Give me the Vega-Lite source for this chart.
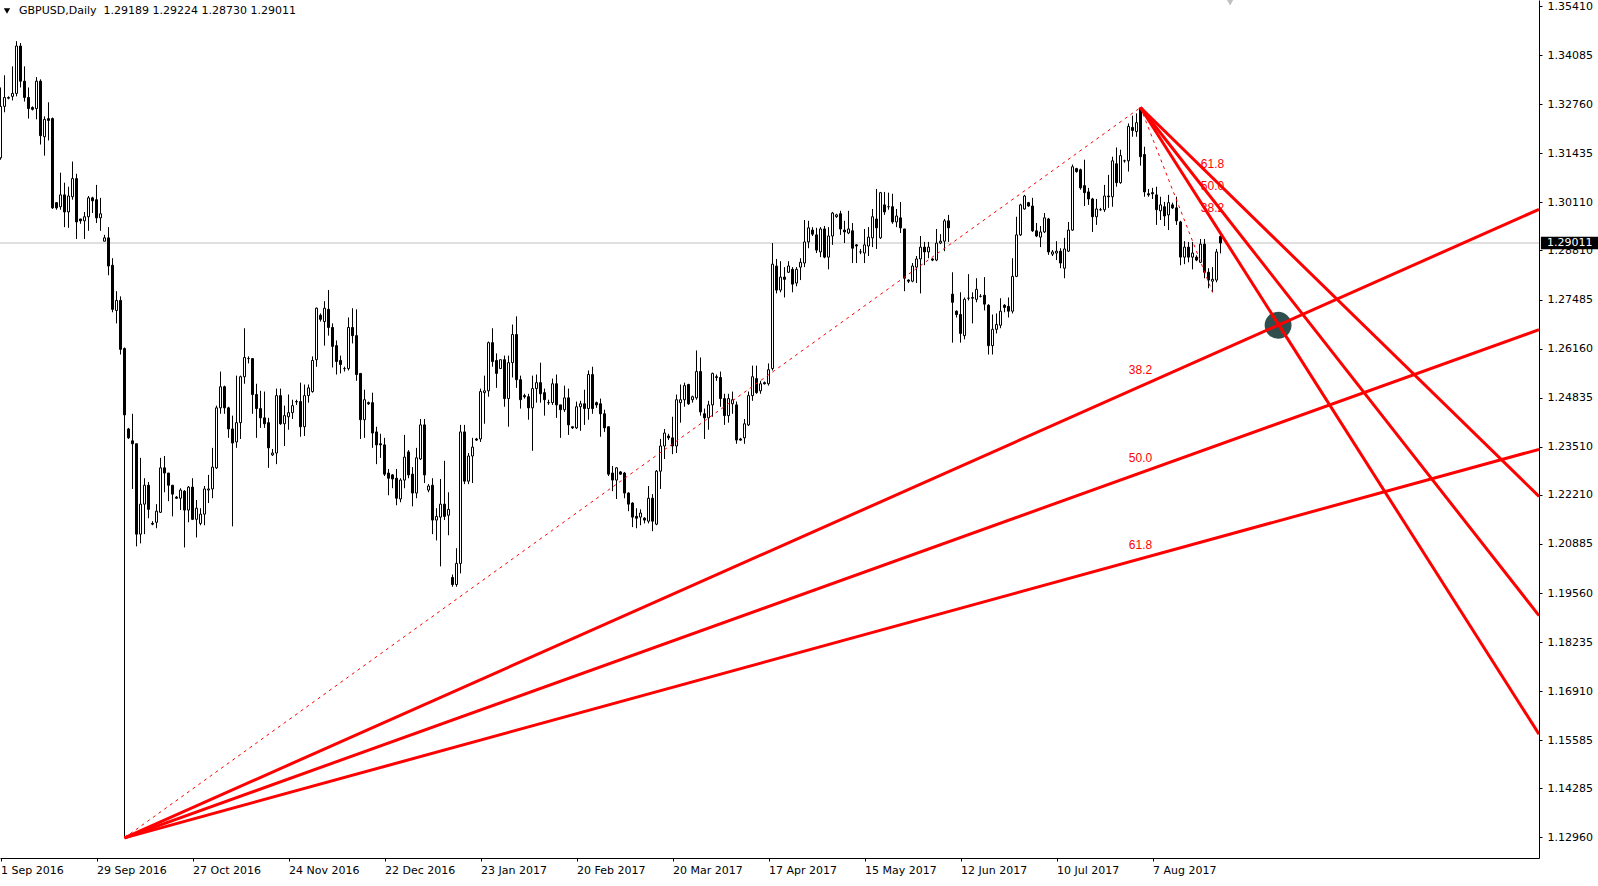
{
"$schema": "https://vega.github.io/schema/vega-lite/v6.json",
"width": 1539, "height": 858,
"autosize": {"type": "none"},
"padding": {"left": 0, "top": 0, "right": 59, "bottom": 28},
"background": "#ffffff",
"config": {"view": {"stroke": null}, "scale": {"continuousPadding": 0}, "axis": {"grid": false, "labelFont": "DejaVu Sans", "labelFontSize": 11, "labelColor": "#000000", "tickColor": "#000000", "domainColor": "#000000", "tickSize": 3}},
"datasets": {
"candles": [
{"i":0,"o":1.3131,"h":1.3321,"l":1.3126,"c":1.327},
{"i":1,"o":1.327,"h":1.3354,"l":1.3254,"c":1.3294},
{"i":2,"o":1.3292,"h":1.3297,"l":1.3289,"c":1.3294},
{"i":3,"o":1.3297,"h":1.3378,"l":1.3286,"c":1.3305},
{"i":4,"o":1.3305,"h":1.3446,"l":1.3297,"c":1.3433},
{"i":5,"o":1.3433,"h":1.3441,"l":1.3321,"c":1.3338},
{"i":6,"o":1.3338,"h":1.3378,"l":1.3283,"c":1.3294},
{"i":7,"o":1.3294,"h":1.3321,"l":1.3237,"c":1.3264},
{"i":8,"o":1.3267,"h":1.327,"l":1.3259,"c":1.3262},
{"i":9,"o":1.3264,"h":1.3349,"l":1.3235,"c":1.3338},
{"i":10,"o":1.3338,"h":1.3343,"l":1.3167,"c":1.3191},
{"i":11,"o":1.3188,"h":1.3243,"l":1.3137,"c":1.3235},
{"i":12,"o":1.3237,"h":1.3281,"l":1.3178,"c":1.3232},
{"i":13,"o":1.3237,"h":1.324,"l":1.2993,"c":1.2996},
{"i":14,"o":1.301,"h":1.301,"l":1.2991,"c":1.2996},
{"i":15,"o":1.2999,"h":1.3091,"l":1.2991,"c":1.3031},
{"i":16,"o":1.3031,"h":1.3064,"l":1.2944,"c":1.2985},
{"i":17,"o":1.2985,"h":1.3053,"l":1.2942,"c":1.3028},
{"i":18,"o":1.3026,"h":1.3121,"l":1.3018,"c":1.3075},
{"i":19,"o":1.3075,"h":1.3088,"l":1.2912,"c":1.2958},
{"i":20,"o":1.2966,"h":1.2966,"l":1.2953,"c":1.2961},
{"i":21,"o":1.2961,"h":1.2985,"l":1.2912,"c":1.2972},
{"i":22,"o":1.2972,"h":1.3028,"l":1.2934,"c":1.3023},
{"i":23,"o":1.3023,"h":1.3026,"l":1.2982,"c":1.3015},
{"i":24,"o":1.3018,"h":1.3058,"l":1.2955,"c":1.2969},
{"i":25,"o":1.2969,"h":1.3023,"l":1.2934,"c":1.298},
{"i":26,"o":1.2906,"h":1.2923,"l":1.2906,"c":1.2915},
{"i":27,"o":1.2915,"h":1.2944,"l":1.2814,"c":1.2839},
{"i":28,"o":1.2841,"h":1.286,"l":1.2714,"c":1.2722},
{"i":29,"o":1.2719,"h":1.2771,"l":1.2684,"c":1.2746},
{"i":30,"o":1.2746,"h":1.2757,"l":1.26,"c":1.2614},
{"i":31,"o":1.2616,"h":1.2619,"l":1.1295,"c":1.2437},
{"i":32,"o":1.2399,"h":1.2402,"l":1.2372,"c":1.2375},
{"i":33,"o":1.2367,"h":1.244,"l":1.2237,"c":1.2359},
{"i":34,"o":1.2359,"h":1.2359,"l":1.2082,"c":1.2115},
{"i":35,"o":1.2115,"h":1.2321,"l":1.209,"c":1.2196},
{"i":36,"o":1.2196,"h":1.2266,"l":1.2115,"c":1.2247},
{"i":37,"o":1.2247,"h":1.2256,"l":1.2158,"c":1.2182},
{"i":38,"o":1.2144,"h":1.215,"l":1.2139,"c":1.2142},
{"i":39,"o":1.2147,"h":1.2196,"l":1.2131,"c":1.2177},
{"i":40,"o":1.2174,"h":1.2321,"l":1.2172,"c":1.2294},
{"i":41,"o":1.2294,"h":1.2326,"l":1.2228,"c":1.228},
{"i":42,"o":1.228,"h":1.228,"l":1.2204,"c":1.2247},
{"i":43,"o":1.2247,"h":1.2247,"l":1.2163,"c":1.2223},
{"i":44,"o":1.2215,"h":1.2218,"l":1.221,"c":1.2212},
{"i":45,"o":1.2212,"h":1.2239,"l":1.218,"c":1.2234},
{"i":46,"o":1.2231,"h":1.2234,"l":1.2079,"c":1.218},
{"i":47,"o":1.218,"h":1.2245,"l":1.2147,"c":1.2242},
{"i":48,"o":1.2242,"h":1.2266,"l":1.2153,"c":1.2155},
{"i":49,"o":1.2155,"h":1.2207,"l":1.2106,"c":1.2185},
{"i":50,"o":1.2144,"h":1.2185,"l":1.2139,"c":1.2169},
{"i":51,"o":1.2169,"h":1.2245,"l":1.2139,"c":1.2237},
{"i":52,"o":1.2234,"h":1.2275,"l":1.2199,"c":1.2237},
{"i":53,"o":1.2237,"h":1.2348,"l":1.2212,"c":1.2296},
{"i":54,"o":1.2294,"h":1.2462,"l":1.2291,"c":1.2456},
{"i":55,"o":1.2456,"h":1.2554,"l":1.244,"c":1.2513},
{"i":56,"o":1.2513,"h":1.2516,"l":1.244,"c":1.2456},
{"i":57,"o":1.2456,"h":1.2459,"l":1.2375,"c":1.2399},
{"i":58,"o":1.2399,"h":1.2435,"l":1.2136,"c":1.2361},
{"i":59,"o":1.2364,"h":1.2543,"l":1.2348,"c":1.2416},
{"i":60,"o":1.2416,"h":1.2543,"l":1.2372,"c":1.254},
{"i":61,"o":1.254,"h":1.2671,"l":1.2521,"c":1.2592},
{"i":62,"o":1.2589,"h":1.2595,"l":1.2576,"c":1.2589},
{"i":63,"o":1.2589,"h":1.259,"l":1.244,"c":1.2492},
{"i":64,"o":1.2492,"h":1.2521,"l":1.2375,"c":1.2454},
{"i":65,"o":1.2454,"h":1.2502,"l":1.2402,"c":1.2429},
{"i":66,"o":1.2429,"h":1.25,"l":1.2402,"c":1.2413},
{"i":67,"o":1.2416,"h":1.2429,"l":1.2294,"c":1.2348},
{"i":68,"o":1.2329,"h":1.2345,"l":1.2326,"c":1.2334},
{"i":69,"o":1.2334,"h":1.2508,"l":1.2304,"c":1.2489},
{"i":70,"o":1.2489,"h":1.2508,"l":1.241,"c":1.2413},
{"i":71,"o":1.2413,"h":1.2462,"l":1.2353,"c":1.2435},
{"i":72,"o":1.2432,"h":1.2492,"l":1.2397,"c":1.2443},
{"i":73,"o":1.2443,"h":1.2478,"l":1.2426,"c":1.2462},
{"i":74,"o":1.2473,"h":1.2478,"l":1.2464,"c":1.2472},
{"i":75,"o":1.2473,"h":1.2524,"l":1.2378,"c":1.2405},
{"i":76,"o":1.2405,"h":1.2519,"l":1.238,"c":1.2489},
{"i":77,"o":1.2489,"h":1.2519,"l":1.247,"c":1.251},
{"i":78,"o":1.25,"h":1.2595,"l":1.2497,"c":1.2584},
{"i":79,"o":1.2586,"h":1.2727,"l":1.2567,"c":1.2725},
{"i":80,"o":1.2706,"h":1.2711,"l":1.2689,"c":1.2695},
{"i":81,"o":1.2689,"h":1.2744,"l":1.2624,"c":1.2725},
{"i":82,"o":1.2722,"h":1.2774,"l":1.2651,"c":1.2673},
{"i":83,"o":1.2673,"h":1.2684,"l":1.2565,"c":1.2622},
{"i":84,"o":1.2624,"h":1.2638,"l":1.2546,"c":1.2581},
{"i":85,"o":1.2584,"h":1.2597,"l":1.2549,"c":1.2573},
{"i":86,"o":1.2562,"h":1.2567,"l":1.2554,"c":1.2562},
{"i":87,"o":1.2562,"h":1.27,"l":1.2557,"c":1.2673},
{"i":88,"o":1.2673,"h":1.2725,"l":1.263,"c":1.2651},
{"i":89,"o":1.2651,"h":1.2722,"l":1.2529,"c":1.2546},
{"i":90,"o":1.2549,"h":1.2549,"l":1.2372,"c":1.2424},
{"i":91,"o":1.2424,"h":1.2505,"l":1.2375,"c":1.2478},
{"i":92,"o":1.247,"h":1.2473,"l":1.2464,"c":1.2467},
{"i":93,"o":1.247,"h":1.2497,"l":1.2348,"c":1.2388},
{"i":94,"o":1.2391,"h":1.2405,"l":1.2304,"c":1.2356},
{"i":95,"o":1.2359,"h":1.2386,"l":1.2321,"c":1.2356},
{"i":96,"o":1.2356,"h":1.2375,"l":1.2272,"c":1.2277},
{"i":97,"o":1.228,"h":1.2291,"l":1.222,"c":1.2266},
{"i":98,"o":1.2275,"h":1.2277,"l":1.2239,"c":1.2264},
{"i":99,"o":1.2266,"h":1.2291,"l":1.2193,"c":1.2212},
{"i":100,"o":1.221,"h":1.2266,"l":1.2201,"c":1.2261},
{"i":101,"o":1.2261,"h":1.2383,"l":1.2239,"c":1.2323},
{"i":102,"o":1.2337,"h":1.2342,"l":1.2266,"c":1.2275},
{"i":103,"o":1.2277,"h":1.2296,"l":1.219,"c":1.2226},
{"i":104,"o":1.2226,"h":1.2348,"l":1.2212,"c":1.2321},
{"i":105,"o":1.2318,"h":1.2426,"l":1.2315,"c":1.241},
{"i":106,"o":1.241,"h":1.2426,"l":1.2253,"c":1.2275},
{"i":107,"o":1.2234,"h":1.225,"l":1.2228,"c":1.2245},
{"i":108,"o":1.2247,"h":1.2266,"l":1.2115,"c":1.2153},
{"i":109,"o":1.2153,"h":1.2185,"l":1.2098,"c":1.2163},
{"i":110,"o":1.2161,"h":1.2264,"l":1.2028,"c":1.2196},
{"i":111,"o":1.2196,"h":1.2313,"l":1.2153,"c":1.2163},
{"i":112,"o":1.2166,"h":1.2228,"l":1.2112,"c":1.2182},
{"i":113,"o":1.1998,"h":1.2006,"l":1.1973,"c":1.1979},
{"i":114,"o":1.1979,"h":1.2077,"l":1.1973,"c":1.2036},
{"i":115,"o":1.2036,"h":1.241,"l":1.2009,"c":1.2391},
{"i":116,"o":1.2391,"h":1.241,"l":1.225,"c":1.2258},
{"i":117,"o":1.2258,"h":1.2334,"l":1.225,"c":1.2326},
{"i":118,"o":1.2326,"h":1.2375,"l":1.2253,"c":1.235},
{"i":119,"o":1.2372,"h":1.2375,"l":1.2367,"c":1.2369},
{"i":120,"o":1.2372,"h":1.2508,"l":1.2364,"c":1.25},
{"i":121,"o":1.2497,"h":1.2543,"l":1.2413,"c":1.2502},
{"i":122,"o":1.2502,"h":1.2635,"l":1.2486,"c":1.2632},
{"i":123,"o":1.2632,"h":1.2671,"l":1.2567,"c":1.2581},
{"i":124,"o":1.2584,"h":1.2603,"l":1.251,"c":1.2549},
{"i":125,"o":1.2562,"h":1.2586,"l":1.2562,"c":1.2586},
{"i":126,"o":1.2586,"h":1.2597,"l":1.2459,"c":1.2481},
{"i":127,"o":1.2481,"h":1.2597,"l":1.2405,"c":1.2578},
{"i":128,"o":1.2578,"h":1.2681,"l":1.2538,"c":1.2654},
{"i":129,"o":1.2654,"h":1.2703,"l":1.251,"c":1.2532},
{"i":130,"o":1.2532,"h":1.2543,"l":1.2454,"c":1.2478},
{"i":131,"o":1.2489,"h":1.2494,"l":1.2481,"c":1.2486},
{"i":132,"o":1.2486,"h":1.2494,"l":1.2424,"c":1.2456},
{"i":133,"o":1.2456,"h":1.2543,"l":1.234,"c":1.2508},
{"i":134,"o":1.2508,"h":1.2546,"l":1.247,"c":1.2524},
{"i":135,"o":1.2524,"h":1.2578,"l":1.247,"c":1.2494},
{"i":136,"o":1.2497,"h":1.2508,"l":1.2435,"c":1.2478},
{"i":137,"o":1.247,"h":1.2478,"l":1.2464,"c":1.247},
{"i":138,"o":1.247,"h":1.2535,"l":1.2464,"c":1.2521},
{"i":139,"o":1.2521,"h":1.2546,"l":1.2429,"c":1.2464},
{"i":140,"o":1.2464,"h":1.2464,"l":1.2375,"c":1.2451},
{"i":141,"o":1.2451,"h":1.2516,"l":1.2445,"c":1.2483},
{"i":142,"o":1.2483,"h":1.2508,"l":1.2383,"c":1.241},
{"i":143,"o":1.2405,"h":1.2405,"l":1.2399,"c":1.2402},
{"i":144,"o":1.2402,"h":1.2473,"l":1.2399,"c":1.2459},
{"i":145,"o":1.2459,"h":1.2475,"l":1.2394,"c":1.2467},
{"i":146,"o":1.2467,"h":1.2505,"l":1.241,"c":1.2454},
{"i":147,"o":1.2454,"h":1.2557,"l":1.2424,"c":1.2546},
{"i":148,"o":1.2546,"h":1.2567,"l":1.244,"c":1.2454},
{"i":149,"o":1.247,"h":1.2473,"l":1.2456,"c":1.2464},
{"i":150,"o":1.2467,"h":1.2481,"l":1.2378,"c":1.244},
{"i":151,"o":1.244,"h":1.2451,"l":1.2391,"c":1.2402},
{"i":152,"o":1.2405,"h":1.2405,"l":1.2272,"c":1.2277},
{"i":153,"o":1.228,"h":1.2299,"l":1.2231,"c":1.2261},
{"i":154,"o":1.2261,"h":1.2296,"l":1.221,"c":1.2294},
{"i":155,"o":1.2283,"h":1.2285,"l":1.2275,"c":1.2277},
{"i":156,"o":1.228,"h":1.2283,"l":1.2212,"c":1.2226},
{"i":157,"o":1.2226,"h":1.2228,"l":1.2177,"c":1.2196},
{"i":158,"o":1.2199,"h":1.2201,"l":1.2134,"c":1.2161},
{"i":159,"o":1.2163,"h":1.2185,"l":1.2131,"c":1.2158},
{"i":160,"o":1.2161,"h":1.2182,"l":1.2139,"c":1.2172},
{"i":161,"o":1.2158,"h":1.2161,"l":1.2144,"c":1.2153},
{"i":162,"o":1.215,"h":1.2245,"l":1.2144,"c":1.2212},
{"i":163,"o":1.2212,"h":1.2223,"l":1.2123,"c":1.215},
{"i":164,"o":1.2142,"h":1.2288,"l":1.2139,"c":1.2285},
{"i":165,"o":1.2285,"h":1.2372,"l":1.2237,"c":1.2353},
{"i":166,"o":1.2353,"h":1.2399,"l":1.2318,"c":1.2388},
{"i":167,"o":1.238,"h":1.2386,"l":1.2369,"c":1.2375},
{"i":168,"o":1.2375,"h":1.2432,"l":1.2331,"c":1.2353},
{"i":169,"o":1.2353,"h":1.2492,"l":1.2334,"c":1.2478},
{"i":170,"o":1.247,"h":1.2519,"l":1.2416,"c":1.2478},
{"i":171,"o":1.2478,"h":1.2524,"l":1.2459,"c":1.2516},
{"i":172,"o":1.2519,"h":1.2521,"l":1.2464,"c":1.2467},
{"i":173,"o":1.2478,"h":1.2489,"l":1.247,"c":1.2486},
{"i":174,"o":1.2483,"h":1.2611,"l":1.2478,"c":1.2554},
{"i":175,"o":1.2554,"h":1.2592,"l":1.2435,"c":1.2445},
{"i":176,"o":1.244,"h":1.2454,"l":1.2372,"c":1.2429},
{"i":177,"o":1.2429,"h":1.2475,"l":1.2397,"c":1.2464},
{"i":178,"o":1.2464,"h":1.2551,"l":1.2432,"c":1.2549},
{"i":179,"o":1.254,"h":1.2546,"l":1.2529,"c":1.2538},
{"i":180,"o":1.2538,"h":1.2554,"l":1.2459,"c":1.2481},
{"i":181,"o":1.2481,"h":1.2494,"l":1.241,"c":1.2435},
{"i":182,"o":1.2435,"h":1.2494,"l":1.2416,"c":1.2481},
{"i":183,"o":1.2467,"h":1.25,"l":1.244,"c":1.2478},
{"i":184,"o":1.2464,"h":1.2473,"l":1.2359,"c":1.2369},
{"i":185,"o":1.2372,"h":1.2375,"l":1.2367,"c":1.2369},
{"i":186,"o":1.2375,"h":1.2426,"l":1.2359,"c":1.2413},
{"i":187,"o":1.241,"h":1.25,"l":1.2407,"c":1.2489},
{"i":188,"o":1.2489,"h":1.257,"l":1.2475,"c":1.254},
{"i":189,"o":1.2535,"h":1.257,"l":1.2494,"c":1.2497},
{"i":190,"o":1.2502,"h":1.2529,"l":1.2494,"c":1.2521},
{"i":191,"o":1.2524,"h":1.2527,"l":1.2519,"c":1.2521},
{"i":192,"o":1.2521,"h":1.2576,"l":1.2516,"c":1.2559},
{"i":193,"o":1.2562,"h":1.2901,"l":1.2557,"c":1.2844},
{"i":194,"o":1.2839,"h":1.2858,"l":1.2765,"c":1.2774},
{"i":195,"o":1.2774,"h":1.2852,"l":1.2768,"c":1.2809},
{"i":196,"o":1.2809,"h":1.2836,"l":1.2754,"c":1.2803},
{"i":197,"o":1.2822,"h":1.2852,"l":1.282,"c":1.2839},
{"i":198,"o":1.283,"h":1.2836,"l":1.2768,"c":1.279},
{"i":199,"o":1.2793,"h":1.2836,"l":1.2784,"c":1.283},
{"i":200,"o":1.2836,"h":1.286,"l":1.2801,"c":1.2849},
{"i":201,"o":1.2847,"h":1.2963,"l":1.2836,"c":1.2904},
{"i":202,"o":1.2904,"h":1.2961,"l":1.2887,"c":1.2942},
{"i":203,"o":1.2936,"h":1.2944,"l":1.292,"c":1.2925},
{"i":204,"o":1.2923,"h":1.2942,"l":1.2874,"c":1.2882},
{"i":205,"o":1.2877,"h":1.2944,"l":1.2863,"c":1.2939},
{"i":206,"o":1.2939,"h":1.2947,"l":1.286,"c":1.2863},
{"i":207,"o":1.2863,"h":1.2944,"l":1.283,"c":1.292},
{"i":208,"o":1.292,"h":1.2985,"l":1.2896,"c":1.2982},
{"i":209,"o":1.2972,"h":1.298,"l":1.2969,"c":1.2977},
{"i":210,"o":1.298,"h":1.2988,"l":1.2923,"c":1.2939},
{"i":211,"o":1.2936,"h":1.2961,"l":1.2901,"c":1.2931},
{"i":212,"o":1.2928,"h":1.2988,"l":1.2925,"c":1.2939},
{"i":213,"o":1.2934,"h":1.2955,"l":1.2847,"c":1.2887},
{"i":214,"o":1.2896,"h":1.2898,"l":1.2847,"c":1.2893},
{"i":215,"o":1.2877,"h":1.2885,"l":1.2871,"c":1.2877},
{"i":216,"o":1.2874,"h":1.2939,"l":1.2847,"c":1.2896},
{"i":217,"o":1.2893,"h":1.2944,"l":1.2866,"c":1.2917},
{"i":218,"o":1.2915,"h":1.2993,"l":1.289,"c":1.2972},
{"i":219,"o":1.2966,"h":1.3047,"l":1.2885,"c":1.2942},
{"i":220,"o":1.2915,"h":1.3039,"l":1.2912,"c":1.3037},
{"i":221,"o":1.3004,"h":1.3039,"l":1.2977,"c":1.2985},
{"i":222,"o":1.2999,"h":1.3037,"l":1.2991,"c":1.2999},
{"i":223,"o":1.2999,"h":1.3034,"l":1.2953,"c":1.2958},
{"i":224,"o":1.2958,"h":1.2993,"l":1.2944,"c":1.2974},
{"i":225,"o":1.2969,"h":1.3012,"l":1.2928,"c":1.2942},
{"i":226,"o":1.2939,"h":1.2939,"l":1.2771,"c":1.2806},
{"i":227,"o":1.2801,"h":1.2803,"l":1.2793,"c":1.2798},
{"i":228,"o":1.2798,"h":1.2847,"l":1.2795,"c":1.2839},
{"i":229,"o":1.2836,"h":1.2866,"l":1.2793,"c":1.2858},
{"i":230,"o":1.2858,"h":1.292,"l":1.2765,"c":1.289},
{"i":231,"o":1.289,"h":1.2904,"l":1.2841,"c":1.2877},
{"i":232,"o":1.2877,"h":1.2904,"l":1.286,"c":1.289},
{"i":233,"o":1.2858,"h":1.286,"l":1.2852,"c":1.2855},
{"i":234,"o":1.2855,"h":1.2939,"l":1.2852,"c":1.2901},
{"i":235,"o":1.2901,"h":1.2925,"l":1.2898,"c":1.2906},
{"i":236,"o":1.2906,"h":1.2966,"l":1.2879,"c":1.2961},
{"i":237,"o":1.2961,"h":1.2977,"l":1.2904,"c":1.2942},
{"i":238,"o":1.2763,"h":1.2822,"l":1.2632,"c":1.2741},
{"i":239,"o":1.2717,"h":1.2719,"l":1.27,"c":1.2708},
{"i":240,"o":1.2708,"h":1.2768,"l":1.2632,"c":1.2657},
{"i":241,"o":1.2651,"h":1.2754,"l":1.2641,"c":1.2749},
{"i":242,"o":1.2752,"h":1.2817,"l":1.2746,"c":1.2752},
{"i":243,"o":1.2752,"h":1.2768,"l":1.2684,"c":1.2754},
{"i":244,"o":1.2749,"h":1.2806,"l":1.2741,"c":1.2776},
{"i":245,"o":1.2757,"h":1.2763,"l":1.2754,"c":1.2757},
{"i":246,"o":1.276,"h":1.2809,"l":1.2719,"c":1.2736},
{"i":247,"o":1.2733,"h":1.2736,"l":1.26,"c":1.2624},
{"i":248,"o":1.2624,"h":1.2708,"l":1.26,"c":1.2668},
{"i":249,"o":1.2668,"h":1.2711,"l":1.2657,"c":1.2681},
{"i":250,"o":1.2679,"h":1.2752,"l":1.2671,"c":1.2717},
{"i":251,"o":1.2733,"h":1.2736,"l":1.2714,"c":1.2727},
{"i":252,"o":1.273,"h":1.2754,"l":1.27,"c":1.2717},
{"i":253,"o":1.2717,"h":1.286,"l":1.2711,"c":1.2811},
{"i":254,"o":1.2811,"h":1.2972,"l":1.2809,"c":1.2923},
{"i":255,"o":1.2923,"h":1.3007,"l":1.292,"c":1.3004},
{"i":256,"o":1.2993,"h":1.3031,"l":1.2991,"c":1.3028},
{"i":257,"o":1.301,"h":1.3012,"l":1.2999,"c":1.3001},
{"i":258,"o":1.3001,"h":1.3023,"l":1.2931,"c":1.2934},
{"i":259,"o":1.2934,"h":1.2955,"l":1.2917,"c":1.292},
{"i":260,"o":1.2917,"h":1.2947,"l":1.289,"c":1.2931},
{"i":261,"o":1.2931,"h":1.2982,"l":1.2928,"c":1.2969},
{"i":262,"o":1.2966,"h":1.2969,"l":1.2869,"c":1.2877},
{"i":263,"o":1.2871,"h":1.2882,"l":1.2866,"c":1.2877},
{"i":264,"o":1.2874,"h":1.2906,"l":1.2855,"c":1.2879},
{"i":265,"o":1.2879,"h":1.2887,"l":1.2833,"c":1.2847},
{"i":266,"o":1.2833,"h":1.2915,"l":1.2806,"c":1.2885},
{"i":267,"o":1.2879,"h":1.2958,"l":1.2877,"c":1.2936},
{"i":268,"o":1.2936,"h":1.3113,"l":1.2934,"c":1.3107},
{"i":269,"o":1.3102,"h":1.3104,"l":1.3091,"c":1.3094},
{"i":270,"o":1.3099,"h":1.3102,"l":1.3045,"c":1.305},
{"i":271,"o":1.3056,"h":1.3126,"l":1.3001,"c":1.3037},
{"i":272,"o":1.3039,"h":1.305,"l":1.3004,"c":1.302},
{"i":273,"o":1.302,"h":1.3023,"l":1.2931,"c":1.2972},
{"i":274,"o":1.2972,"h":1.302,"l":1.295,"c":1.2993},
{"i":275,"o":1.2991,"h":1.2996,"l":1.2988,"c":1.2991},
{"i":276,"o":1.2991,"h":1.3058,"l":1.2985,"c":1.3028},
{"i":277,"o":1.3028,"h":1.3085,"l":1.2996,"c":1.3026},
{"i":278,"o":1.3026,"h":1.3134,"l":1.2999,"c":1.3123},
{"i":279,"o":1.3115,"h":1.3159,"l":1.3053,"c":1.3064},
{"i":280,"o":1.3064,"h":1.3153,"l":1.3061,"c":1.3137},
{"i":281,"o":1.3123,"h":1.3126,"l":1.3118,"c":1.3123},
{"i":282,"o":1.3123,"h":1.3224,"l":1.3094,"c":1.3216},
{"i":283,"o":1.3213,"h":1.3245,"l":1.3188,"c":1.3205},
{"i":284,"o":1.3202,"h":1.3251,"l":1.3188,"c":1.3226},
{"i":285,"o":1.3266,"h":1.3267,"l":1.311,"c":1.3134},
{"i":286,"o":1.314,"h":1.3161,"l":1.3026,"c":1.3039},
{"i":287,"o":1.3034,"h":1.3047,"l":1.3026,"c":1.3031},
{"i":288,"o":1.3037,"h":1.305,"l":1.302,"c":1.3034},
{"i":289,"o":1.3031,"h":1.3053,"l":1.295,"c":1.2991},
{"i":290,"o":1.2988,"h":1.3026,"l":1.2963,"c":1.3004},
{"i":291,"o":1.2999,"h":1.3012,"l":1.2947,"c":1.2974},
{"i":292,"o":1.2977,"h":1.3031,"l":1.2936,"c":1.301},
{"i":293,"o":1.3004,"h":1.301,"l":1.2993,"c":1.2996},
{"i":294,"o":1.2996,"h":1.3026,"l":1.295,"c":1.2961},
{"i":295,"o":1.2958,"h":1.2961,"l":1.2841,"c":1.2863},
{"i":296,"o":1.2863,"h":1.2906,"l":1.2844,"c":1.289},
{"i":297,"o":1.289,"h":1.2904,"l":1.2849,"c":1.2863},
{"i":298,"o":1.2863,"h":1.2904,"l":1.283,"c":1.2874},
{"i":299,"o":1.2863,"h":1.2868,"l":1.2852,"c":1.2855},
{"i":300,"o":1.2849,"h":1.2912,"l":1.2847,"c":1.2898},
{"i":301,"o":1.2898,"h":1.2912,"l":1.2806,"c":1.2822},
{"i":302,"o":1.2822,"h":1.2833,"l":1.2779,"c":1.2801},
{"i":303,"o":1.2798,"h":1.2836,"l":1.2768,"c":1.2803},
{"i":304,"o":1.2801,"h":1.2885,"l":1.2795,"c":1.2877},
{"i":305,"o":1.29189,"h":1.29224,"l":1.2873,"c":1.29011}
],
"fan": [
{"x1":31,"p1":1.1295,"x2":384.625,"p2":1.2992},
{"x1":31,"p1":1.1295,"x2":384.625,"p2":1.2667},
{"x1":31,"p1":1.1295,"x2":384.625,"p2":1.2344},
{"x1":285,"p1":1.3267,"x2":384.625,"p2":1.1575},
{"x1":285,"p1":1.3267,"x2":384.625,"p2":1.1895},
{"x1":285,"p1":1.3267,"x2":384.625,"p2":1.2217}
],
"trend": [
{"x1":31,"p1":1.1295,"x2":285,"p2":1.3267},
{"x1":285,"p1":1.3267,"x2":303,"p2":1.2768}
],
"labs": [
{"x":285,"p":1.2557,"t":"38.2"},
{"x":285,"p":1.2321,"t":"50.0"},
{"x":285,"p":1.2086,"t":"61.8"},
{"x":303,"p":1.2995,"t":"38.2"},
{"x":303,"p":1.3056,"t":"50.0"},
{"x":303,"p":1.3115,"t":"61.8"}
]
},
"layer": [
{"data": {"values": [{"p": 1.29011}]},
 "mark": {"type": "rule", "color": "#c0c0c0", "strokeWidth": 1},
 "encoding": {"y": {"field": "p", "type": "quantitative", "title": null, "scale": {"domain": [1.12406, 1.35572], "nice": false, "zero": false, "padding": 0}}}},
{"data": {"name": "candles"},
 "mark": {"type": "rule", "color": "#000000", "strokeWidth": 1},
 "encoding": {
  "x": {"field": "i", "type": "quantitative", "title": null, "scale": {"domain": [-0.125, 384.625], "nice": false, "zero": false, "padding": 0},
        "axis": {"orient": "bottom", "title": null, "values": [0,24,48,72,96,120,144,168,192,216,240,264,288], "labelExpr": "['1 Sep 2016','29 Sep 2016','27 Oct 2016','24 Nov 2016','22 Dec 2016','23 Jan 2017','20 Feb 2017','20 Mar 2017','17 Apr 2017','15 May 2017','12 Jun 2017','10 Jul 2017','7 Aug 2017'][round(datum.value/24)]", "labelAlign": "left", "labelBaseline": "top", "labelPadding": 3, "labelFlush": false, "labelOverlap": false, "labelBound": false}},
  "y": {"field": "l", "type": "quantitative", "title": null, "scale": {"domain": [1.12406, 1.35572], "nice": false, "zero": false, "padding": 0},
        "axis": {"orient": "right", "title": null, "values": [1.3541,1.34085,1.3276,1.31435,1.3011,1.2881,1.27485,1.2616,1.24835,1.2351,1.2221,1.20885,1.1956,1.18235,1.1691,1.15585,1.14285,1.1296], "format": ".5f", "labelPadding": 5, "labelOverlap": false, "labelBound": false, "labelFlush": false}},
  "y2": {"field": "h"}}},
{"data": {"name": "candles"},
 "mark": {"type": "bar", "width": 2, "stroke": "#000000", "strokeWidth": 1},
 "encoding": {
  "x": {"field": "i", "type": "quantitative", "title": null, "scale": {"domain": [-0.125, 384.625], "nice": false, "zero": false, "padding": 0}},
  "y": {"field": "o", "type": "quantitative", "title": null, "scale": {"domain": [1.12406, 1.35572], "nice": false, "zero": false, "padding": 0}},
  "y2": {"field": "c"},
  "fill": {"condition": {"test": "datum.c >= datum.o", "value": "#ffffff"}, "value": "#000000"}}},
{"data": {"values": [{"x": 319.4, "p": 1.2679}]},
 "mark": {"type": "point", "shape": "circle", "filled": true, "size": 720, "color": "#2f4f4f", "opacity": 1},
 "encoding": {
  "x": {"field": "x", "type": "quantitative", "title": null, "scale": {"domain": [-0.125, 384.625], "nice": false, "zero": false, "padding": 0}},
  "y": {"field": "p", "type": "quantitative", "title": null, "scale": {"domain": [1.12406, 1.35572], "nice": false, "zero": false, "padding": 0}}}},
{"data": {"name": "trend"},
 "mark": {"type": "rule", "color": "#ff0000", "strokeWidth": 1, "strokeDash": [3, 4]},
 "encoding": {
  "x": {"field": "x1", "type": "quantitative", "title": null, "scale": {"domain": [-0.125, 384.625], "nice": false, "zero": false, "padding": 0}},
  "x2": {"field": "x2"},
  "y": {"field": "p1", "type": "quantitative", "title": null, "scale": {"domain": [1.12406, 1.35572], "nice": false, "zero": false, "padding": 0}},
  "y2": {"field": "p2"}}},
{"data": {"name": "fan"},
 "mark": {"type": "rule", "color": "#ff0000", "strokeWidth": 3, "clip": true},
 "encoding": {
  "x": {"field": "x1", "type": "quantitative", "title": null, "scale": {"domain": [-0.125, 384.625], "nice": false, "zero": false, "padding": 0}},
  "x2": {"field": "x2"},
  "y": {"field": "p1", "type": "quantitative", "title": null, "scale": {"domain": [1.12406, 1.35572], "nice": false, "zero": false, "padding": 0}},
  "y2": {"field": "p2"}}},
{"data": {"name": "labs"},
 "mark": {"type": "text", "font": "Liberation Sans", "fontSize": 12, "color": "#ff0000", "align": "center", "baseline": "middle"},
 "encoding": {
  "x": {"field": "x", "type": "quantitative", "title": null, "scale": {"domain": [-0.125, 384.625], "nice": false, "zero": false, "padding": 0}},
  "y": {"field": "p", "type": "quantitative", "title": null, "scale": {"domain": [1.12406, 1.35572], "nice": false, "zero": false, "padding": 0}},
  "text": {"field": "t"}}},
{"data": {"values": [{"x": 4.625, "p": 1.35262, "t": "GBPUSD,Daily \u00a01.29189 1.29224 1.28730 1.29011"}]},
 "mark": {"type": "text", "font": "DejaVu Sans", "fontSize": 11, "color": "#000000", "align": "left", "baseline": "middle"},
 "encoding": {
  "x": {"field": "x", "type": "quantitative", "title": null, "scale": {"domain": [-0.125, 384.625], "nice": false, "zero": false, "padding": 0}},
  "y": {"field": "p", "type": "quantitative", "title": null, "scale": {"domain": [1.12406, 1.35572], "nice": false, "zero": false, "padding": 0}},
  "text": {"field": "t"}}},
{"data": {"values": [{"x": 1.625, "p": 1.35275, "k": "hdr"}, {"x": 307.4, "p": 1.3556, "k": "shift"}]},
 "mark": {"type": "point", "shape": "triangle-down", "filled": true, "opacity": 1},
 "encoding": {
  "x": {"field": "x", "type": "quantitative", "title": null, "scale": {"domain": [-0.125, 384.625], "nice": false, "zero": false, "padding": 0}},
  "y": {"field": "p", "type": "quantitative", "title": null, "scale": {"domain": [1.12406, 1.35572], "nice": false, "zero": false, "padding": 0}},
  "color": {"field": "k", "type": "nominal", "scale": {"domain": ["hdr", "shift"], "range": ["#000000", "#c0c0c0"]}, "legend": null},
  "size": {"field": "k", "type": "nominal", "scale": {"domain": ["hdr", "shift"], "range": [40, 130]}, "legend": null}}},
{"data": {"values": [{"x": 385.1, "x2": 399.6, "p": 1.2918, "p2": 1.2884}]},
 "mark": {"type": "rect", "color": "#000000"},
 "encoding": {
  "x": {"field": "x", "type": "quantitative", "title": null, "scale": {"domain": [-0.125, 384.625], "nice": false, "zero": false, "padding": 0}},
  "x2": {"field": "x2"},
  "y": {"field": "p", "type": "quantitative", "title": null, "scale": {"domain": [1.12406, 1.35572], "nice": false, "zero": false, "padding": 0}},
  "y2": {"field": "p2"}}},
{"data": {"values": [{"x": 386.6, "p": 1.29011, "t": "1.29011"}]},
 "mark": {"type": "text", "font": "DejaVu Sans", "fontSize": 11, "color": "#ffffff", "align": "left", "baseline": "middle"},
 "encoding": {
  "x": {"field": "x", "type": "quantitative", "title": null, "scale": {"domain": [-0.125, 384.625], "nice": false, "zero": false, "padding": 0}},
  "y": {"field": "p", "type": "quantitative", "title": null, "scale": {"domain": [1.12406, 1.35572], "nice": false, "zero": false, "padding": 0}},
  "text": {"field": "t"}}}
]
}
